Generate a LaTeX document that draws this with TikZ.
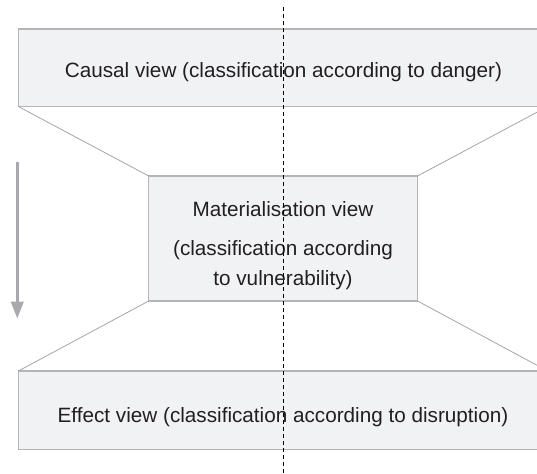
\documentclass[tikz,border=0pt]{standalone}
\usepackage{fontspec}
\setmainfont{Liberation Sans}
\usetikzlibrary{arrows.meta}
\definecolor{boxfill}{HTML}{F1F2F4}
\definecolor{boxline}{HTML}{B5B5B7}
\definecolor{conline}{HTML}{A5A5A7}
\definecolor{arrowcol}{HTML}{A7A9AC}
\definecolor{txt}{HTML}{231F20}
\tikzset{
  viewbox/.style={draw=boxline, fill=boxfill, line width=1.2pt, inner sep=0pt, outer sep=0pt, rectangle},
  funnel/.style={draw=conline, line width=0.8pt},
  lbl/.style={anchor=base, inner sep=0pt, text=txt, font=\fontsize{20.7}{24}\selectfont},
  divider/.style={draw=black, line width=0.8pt, dash pattern=on 4pt off 3pt},
  flow/.style={draw=arrowcol, line width=2.6pt, -{Triangle[length=17pt,width=12.5pt]}}
}
\begin{document}
\begin{tikzpicture}[x=1pt,y=-1pt]
\useasboundingbox (0,0) rectangle (537,473);
\clip (0,0) rectangle (537,473);
\node[viewbox, minimum width=529.4pt, minimum height=77.5pt] (top) at (283,67.75) {};
\node[viewbox, minimum width=268.8pt, minimum height=125pt] (mid) at (283.1,238.5) {};
\node[viewbox, minimum width=529.4pt, minimum height=78.3pt] (bot) at (283,410.2) {};
\draw[funnel] (top.south west) -- (mid.north west);
\draw[funnel] (top.south east) -- (mid.north east);
\draw[funnel] (mid.south west) -- (bot.north west);
\draw[funnel] (mid.south east) -- (bot.north east);
\node[lbl] (ttop) at (283.5,78) {Causal view (classification according to danger)};
\node[lbl] (tmid1) at (283,216.5) {Materialisation view};
\node[lbl] (tmid2) at (283,255.2) {(classification according};
\node[lbl] (tmid3) at (283,285) {to vulnerability)};
\node[lbl] (tbot) at (283,422) {Effect view (classification according to disruption)};
\coordinate (astart) at (17.3,162);
\coordinate (aend) at (17.3,318.5);
\draw[flow] (astart) -- (aend);
\coordinate (dtop) at (283,7);
\coordinate (dbot) at (283,473);
\draw[divider] (dtop) -- (dbot);
\end{tikzpicture}
\end{document}
